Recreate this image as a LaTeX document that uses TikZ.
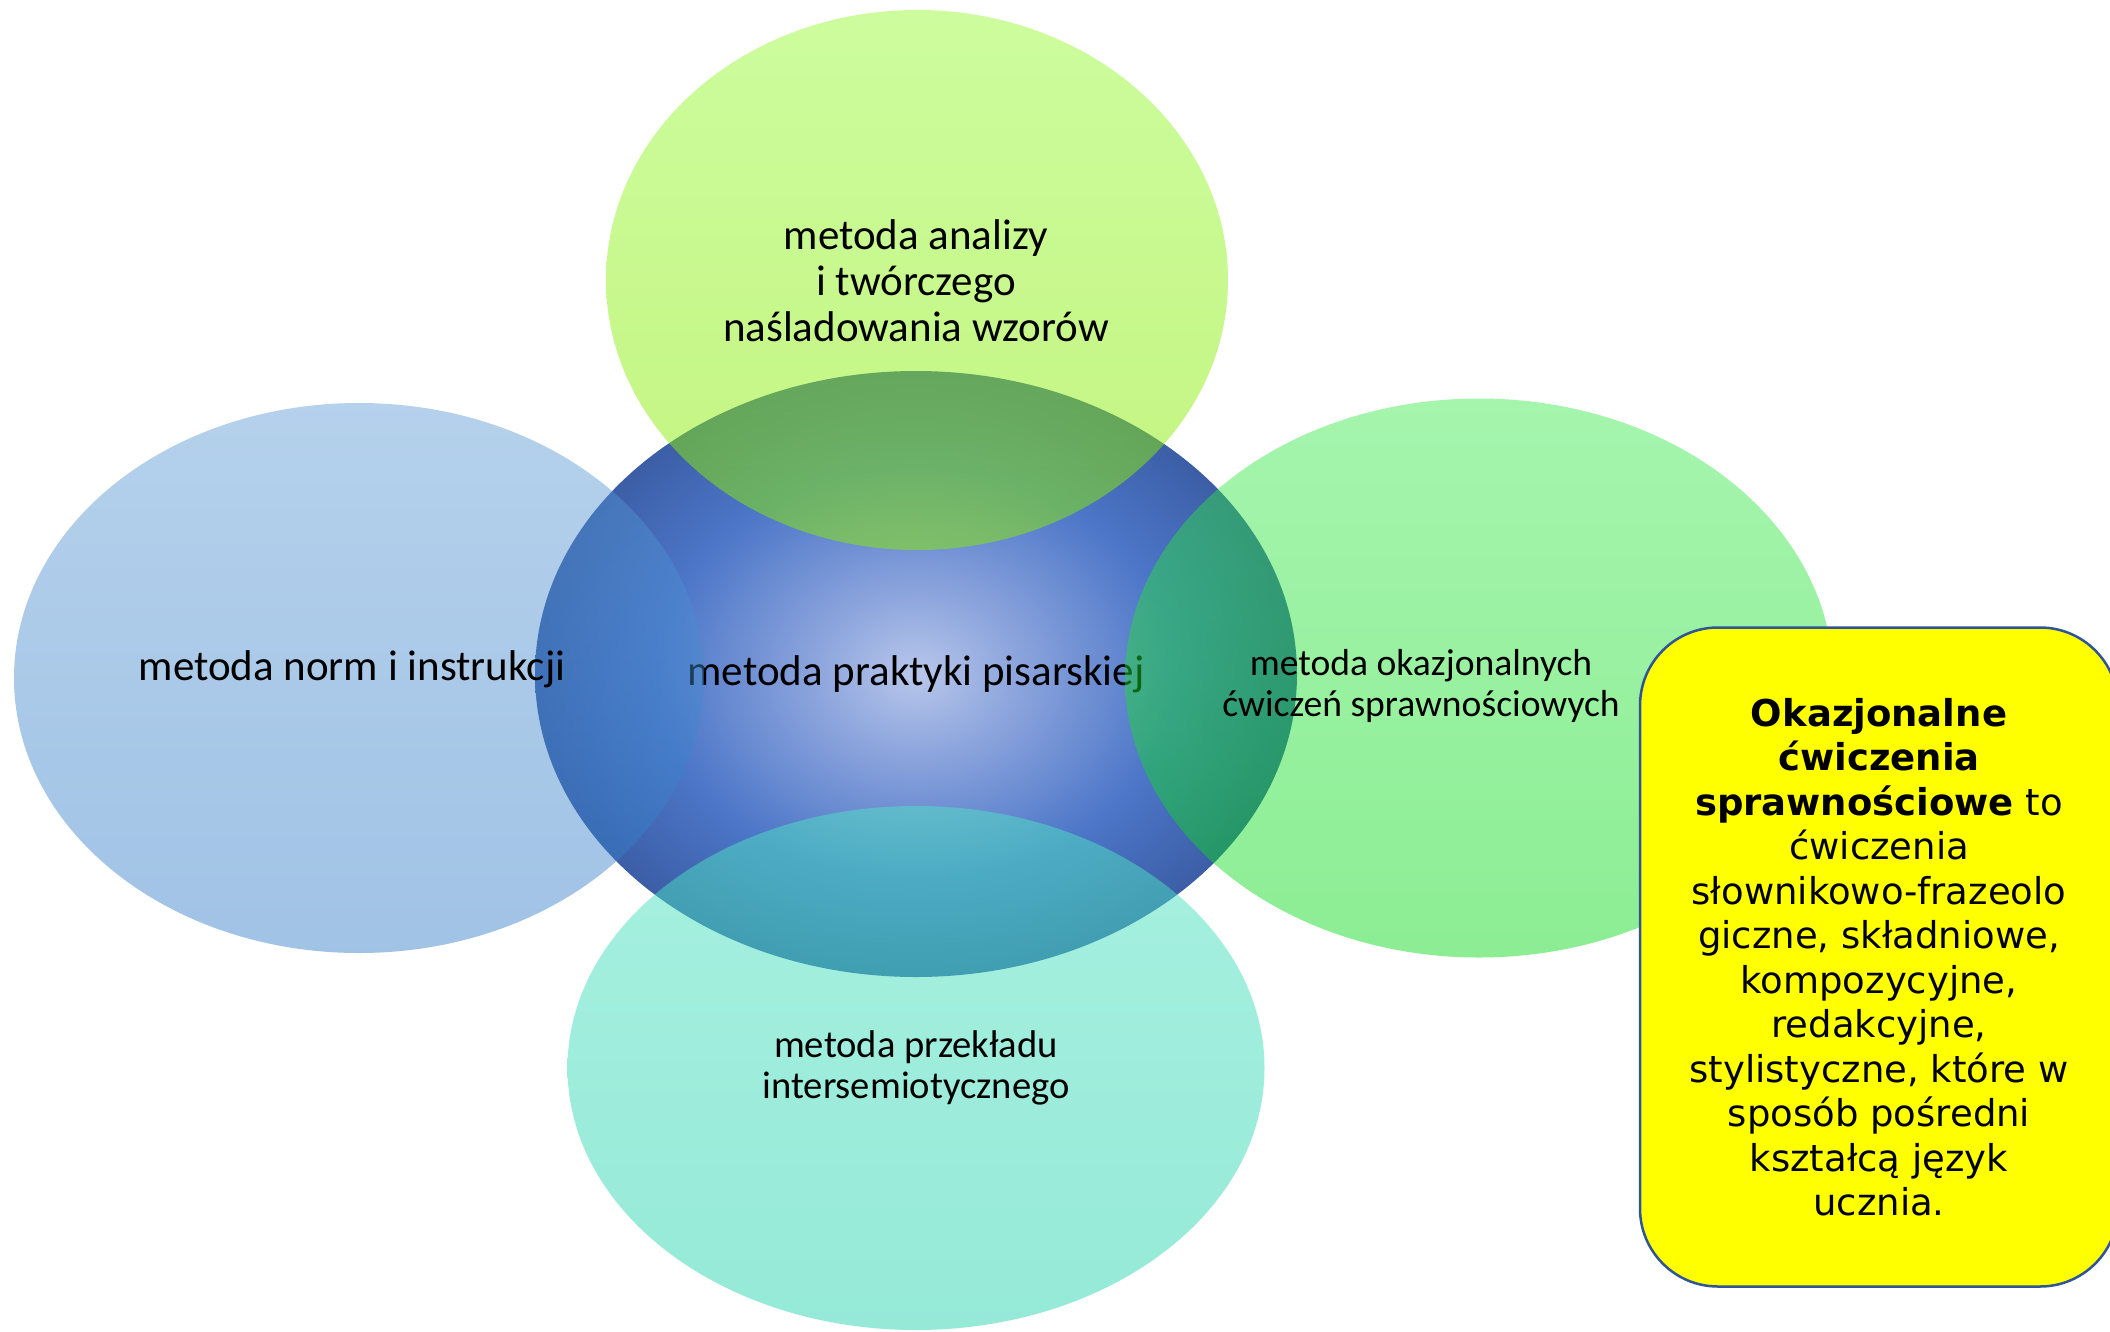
\documentclass[tikz,border=0pt]{standalone}
\usepackage{fontspec}
\setmainfont{Carlito}
\newfontfamily\boxfont{DejaVu Sans}
\usetikzlibrary{shapes.geometric}
\definecolor{cA}{RGB}{184,199,235}
\definecolor{cB}{RGB}{138,163,220}
\definecolor{cC}{RGB}{76,118,200}
\definecolor{cD}{RGB}{60,94,166}
\pgfdeclareradialshading{ctrshade}{\pgfpoint{0bp}{0bp}}{color(0bp)=(cA); color(7bp)=(cB); color(17bp)=(cC); color(25bp)=(cD); color(50bp)=(cD)}
\definecolor{topT}{RGB}{155,251,61}
\definecolor{topB}{RGB}{137,235,0}
\definecolor{leftT}{RGB}{91,153,213}
\definecolor{leftB}{RGB}{46,122,199}
\definecolor{rightT}{RGB}{57,233,75}
\definecolor{rightB}{RGB}{0,217,17}
\definecolor{botT}{RGB}{81,227,195}
\definecolor{botB}{RGB}{45,213,177}
\definecolor{boxborder}{RGB}{47,85,151}
\definecolor{boxfill}{RGB}{255,255,0}
\tikzset{
  blob/.style={ellipse, inner sep=0pt, outer sep=0pt},
  bigtxt/.style={align=center, inner sep=0pt, font=\fontsize{43}{46}\selectfont},
  midtxt/.style={align=center, inner sep=0pt, font=\fontsize{37.6}{41}\selectfont},
  lowtxt/.style={align=center, inner sep=0pt, font=\fontsize{38.6}{41}\selectfont},
  notebox/.style={draw=boxborder, line width=2.5pt, fill=boxfill, rounded corners=78pt,
    minimum width=478pt, minimum height=659pt, align=center, inner sep=0pt,
    font=\boxfont\fontsize{37}{44.5}\selectfont}
}
\begin{document}
\begin{tikzpicture}[x=1pt,y=-1pt]
\useasboundingbox (0,0) rectangle (2110,1331);
\clip (0,0) rectangle (2110,1331);
\fill[white] (0,0) rectangle (2110,1331);
% centre ellipse
\node[blob, shading=ctrshade, minimum width=762pt, minimum height=606pt] (ctr) at (916,674) {};
\node[bigtxt] (ctrtxt) at (916,674) {metoda praktyki pisarskiej};
% outer ellipses
\node[blob, top color=topT, bottom color=topB, fill opacity=0.5, minimum width=622pt, minimum height=540pt] (top) at (917,280) {};
\node[blob, top color=leftT, bottom color=leftB, fill opacity=0.45, minimum width=690pt, minimum height=550pt] (left) at (359,678) {};
\node[blob, top color=rightT, bottom color=rightB, fill opacity=0.45, minimum width=708pt, minimum height=559pt] (right) at (1479,678) {};
\node[blob, top color=botT, bottom color=botB, fill opacity=0.5, minimum width=697pt, minimum height=524pt] (bot) at (916,1068) {};
% labels
\node[bigtxt] (toptxt) at (916,281) {metoda analizy\\i twórczego\\naśladowania wzorów};
\node[bigtxt] (lefttxt) at (352,669) {metoda norm i instrukcji};
\node[midtxt] (righttxt) at (1421,686) {metoda okazjonalnych\\ćwiczeń sprawnościowych};
\node[lowtxt] (bottxt) at (916,1068) {metoda przekładu\\intersemiotycznego};
% note box
\node[notebox] (note) at (1879,957) {\textbf{Okazjonalne}\\\textbf{ćwiczenia}\\\textbf{sprawnościowe} to\\ćwiczenia\\słownikowo-frazeolo\\giczne, składniowe,\\kompozycyjne,\\redakcyjne,\\stylistyczne, które w\\sposób pośredni\\kształcą język\\ucznia.};
\end{tikzpicture}
\end{document}
